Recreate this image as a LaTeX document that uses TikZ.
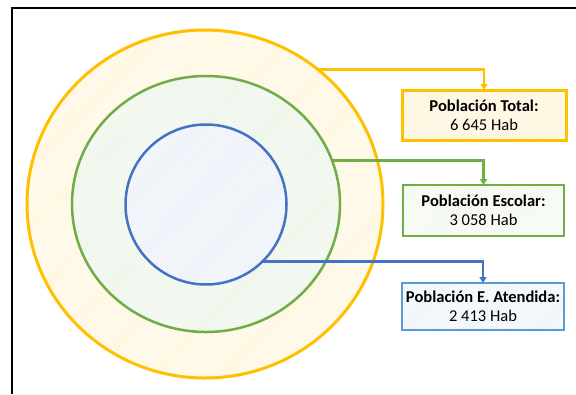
\documentclass[tikz,border=0pt]{standalone}
\usepackage{fontspec}
\setmainfont{Carlito}
\usetikzlibrary{shapes.geometric,patterns,arrows.meta}
\definecolor{ycol}{HTML}{FFC000}
\definecolor{gcol}{HTML}{70AD47}
\definecolor{bcol}{HTML}{4472C4}
\definecolor{bbox}{HTML}{5B9BD5}
\tikzset{
  ring/.style={ellipse, inner sep=0pt, outer sep=0pt},
  yring/.style={ring, draw=ycol, line width=3bp, preaction={fill=ycol!3}, pattern=north east lines, pattern color=ycol!25},
  gring/.style={ring, draw=gcol, line width=2.5bp, preaction={fill=gcol!4}, pattern=north east lines, pattern color=gcol!22},
  bring/.style={ring, draw=bcol, line width=2.5bp, preaction={fill=bcol!3}, pattern=north east lines, pattern color=bcol!20},
  infobox/.style={rectangle, align=center, inner sep=0pt, outer sep=0pt, font=\fontsize{16.6}{19}\selectfont, text=black},
  ybox/.style={infobox, draw=ycol, line width=3bp, preaction={fill=ycol!4}, pattern=north east lines, pattern color=ycol!28, minimum width=164bp, minimum height=50bp},
  gbox/.style={infobox, draw=gcol, line width=2.5bp, preaction={fill=white}, pattern=north east lines, pattern color=gcol!22, minimum width=161bp, minimum height=51bp},
  bbx/.style={infobox, draw=bbox, line width=2.5bp, preaction={fill=white}, pattern=north east lines, pattern color=bbox!25, minimum width=162bp, minimum height=47bp},
  conn/.style={line width=2.5bp, -{Triangle[width=7bp,length=6bp]}},
}
\begin{document}
\begin{tikzpicture}[x=1bp,y=-1bp]
\useasboundingbox (0,0) rectangle (576,394);
% frame
\draw[line width=2bp, black] (12,394) -- (12,8) -- (576,8);
% rings
\node[yring, minimum width=356bp, minimum height=348bp] (yc) at (205,204) {};
\node[gring, minimum width=268bp, minimum height=256bp] (gc) at (206,204) {};
\node[bring, minimum width=161bp, minimum height=160bp] (bc) at (206,204.5) {};
% boxes
\node[ybox] (yb) at (484,115) {\textbf{Población Total:}\\6 645 Hab};
\node[gbox] (gb) at (483.5,210.5) {\textbf{Población Escolar:}\\3 058 Hab};
\node[bbx] (bb) at (483,306.5) {\textbf{Población E. Atendida:}\\2 413 Hab};
% connectors
\draw[conn, ycol] (yc.50.7) -| (yb.north);
\draw[conn, gcol] (gc.19.6) -| (gb.north);
\draw[conn, bcol] (bc.-45) -| (bb.north);
\end{tikzpicture}
\end{document}
